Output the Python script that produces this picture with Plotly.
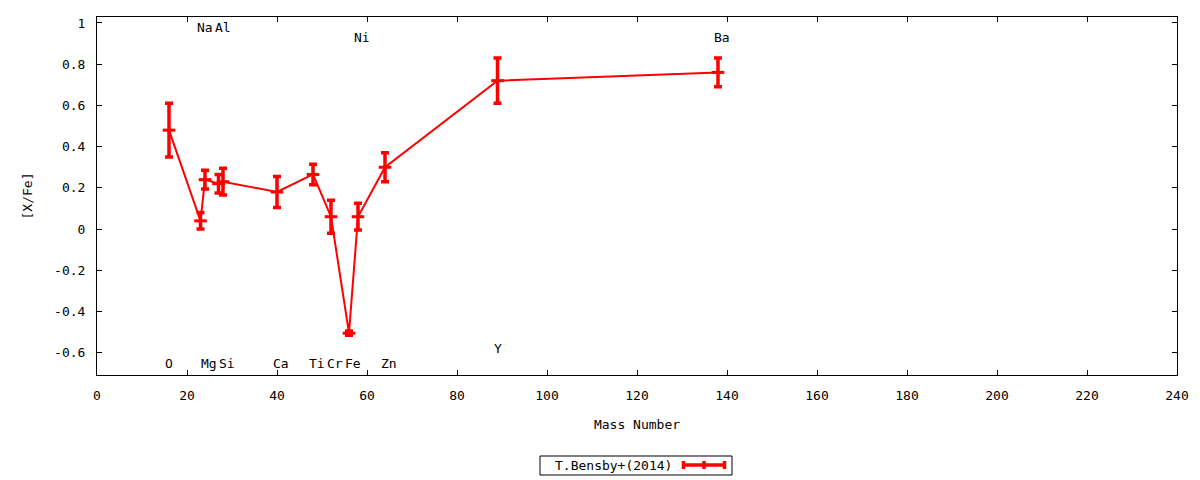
import plotly.graph_objects as go

# Abundances from T.Bensby+(2014), plotted against mass number
elements = ["O", "Na", "Mg", "Al", "Si", "Ca", "Ti", "Cr", "Fe", "Ni", "Zn", "Y", "Ba"]
mass_number = [16, 23, 24, 27, 28, 40, 48, 52, 56, 58, 64, 89, 138]
x_fe = [0.48, 0.04, 0.24, 0.22, 0.23, 0.18, 0.265, 0.06, -0.505, 0.06, 0.30, 0.72, 0.76]
x_fe_err = [0.13, 0.04, 0.045, 0.045, 0.065, 0.075, 0.05, 0.08, 0.01, 0.065, 0.07, 0.11, 0.07]

# element label heights (data units)
label_y = [-0.65, 0.98, -0.65, 0.98, -0.65, -0.65, -0.65, -0.65, -0.65, 0.93, -0.65, -0.58, 0.93]

y_tickvals = [-0.6, -0.4, -0.2, 0, 0.2, 0.4, 0.6, 0.8, 1]
y_ticktext = ["-0.6", "-0.4", "-0.2", "0", "0.2", "0.4", "0.6", "0.8", "1"]

legend_name = "T.Bensby+(2014)"

font_family = "DejaVu Sans Mono"
red = "#ff0000"

fig = go.Figure()

fig.add_trace(
    go.Scatter(
        x=mass_number,
        y=x_fe,
        mode="lines+markers",
        name=legend_name,
        line={"color": red, "width": 2},
        marker={
            "symbol": "line-ew",
            "size": 9,
            "color": red,
            "line": {"color": red, "width": 3},
        },
        error_y=dict(type="data", array=x_fe_err, visible=True, color=red, thickness=3.5, width=4),
        showlegend=False,
    )
)

# element names
for name, mx, ly in zip(elements, mass_number, label_y):
    fig.add_annotation(
        x=mx,
        y=ly,
        text=name,
        showarrow=False,
        xanchor="left",
        yanchor="middle",
        xshift=-6,
        font=dict(family=font_family, size=13, color="black"),
    )

# hand drawn key box (gnuplot style: sample to the right of the text)
plot_l, plot_r, plot_t, plot_b = 97, 1177, 17, 375


def px(x):
    return (x - plot_l) / (plot_r - plot_l)


def py(y):
    return (plot_b - y) / (plot_b - plot_t)


fig.add_shape(type="rect", xref="paper", yref="paper",
              x0=px(540), x1=px(732), y0=py(475), y1=py(456),
              line=dict(color="black", width=1))
fig.add_annotation(xref="paper", yref="paper", x=px(674), y=py(465.5), text=legend_name,
                   showarrow=False, xanchor="right", yanchor="middle",
                   font=dict(family=font_family, size=13, color="black"))
for x0, x1, y0, y1 in [(682, 726, 465, 465), (683.5, 683.5, 461, 469), (704, 704, 461, 469), (724.5, 724.5, 461, 469)]:
    fig.add_shape(type="line", xref="paper", yref="paper",
                  x0=px(x0), x1=px(x1), y0=py(y0), y1=py(y1),
                  line=dict(color=red, width=3.5))

axis_common = dict(
    showline=True,
    linecolor="black",
    linewidth=1,
    mirror="ticks",
    ticks="inside",
    ticklen=5,
    tickcolor="black",
    showgrid=False,
    zeroline=False,
    tickfont=dict(family=font_family, size=13, color="black"),
)

fig.update_xaxes(
    range=[0, 240],
    tickmode="linear",
    tick0=0,
    dtick=20,
    ticklabelstandoff=8,
    title=dict(text="Mass Number", standoff=18, font=dict(family=font_family, size=13, color="black")),
    **axis_common,
)
fig.update_yaxes(
    range=[-0.708, 1.029],
    tickvals=y_tickvals,
    ticktext=y_ticktext,
    ticklabelstandoff=8,
    title=dict(text="[X/Fe]", standoff=18, font=dict(family=font_family, size=13, color="black")),
    **axis_common,
)

fig.update_layout(
    width=1200,
    height=480,
    margin=dict(l=97, r=23, t=17, b=105),
    plot_bgcolor="white",
    paper_bgcolor="white",
    showlegend=False,
)

# drop the browser's default page margin so the figure sits at 0,0
fig.write_html(
    "out.html",
    config={"displayModeBar": False},
    post_script="document.body.style.margin = '0'; document.body.style.overflow = 'hidden';",
)
